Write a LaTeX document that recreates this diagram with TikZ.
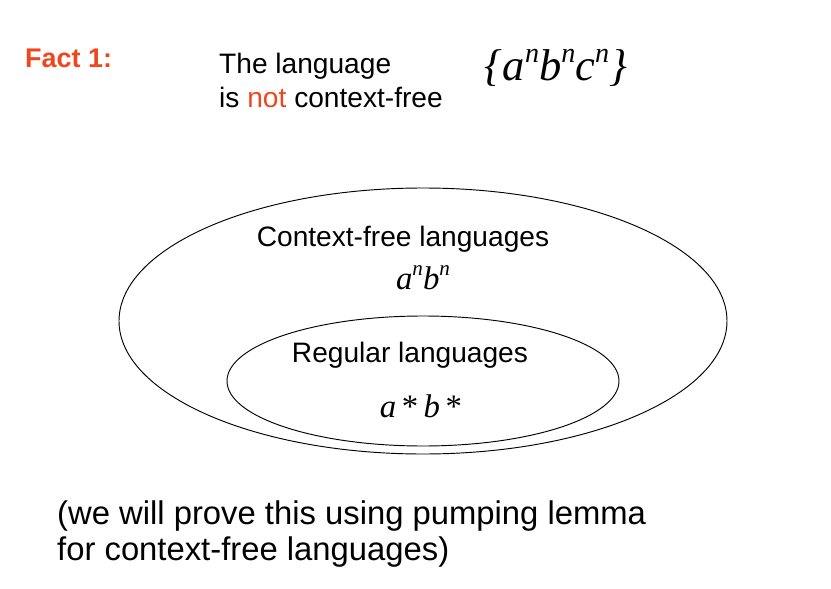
\documentclass[tikz,border=0pt]{standalone}
\usepackage{fontspec}
\setmainfont{Liberation Sans}
\newfontfamily\tms{Liberation Serif}
\definecolor{factred}{RGB}{240,70,30}
\newcommand\pw[1]{\raisebox{0.42em}{\fontsize{#1}{#1}\selectfont n}}
\begin{document}
\begin{tikzpicture}[x=0.03cm,y=-0.03cm,
  lbl/.style={inner sep=0pt,font=\fontsize{24}{28}\selectfont},
  mth/.style={inner sep=0pt,font=\tms\itshape\fontsize{28}{30}\selectfont},
  oval/.style={draw,line width=0.8pt}]
\useasboundingbox (0,0) rectangle (831,589);
\node[lbl,anchor=west,text=factred,font=\bfseries\fontsize{23}{26}\selectfont] (fact) at (25,58) {Fact 1:};
\node[lbl,anchor=west] (t1) at (219,66) {The language};
\node[lbl,anchor=west] (t2) at (219,97) {is \textcolor{factred}{not} context-free};
\node[mth,font=\tms\itshape\fontsize{38}{40}\selectfont] (abc) at (556,68) {\{a\pw{24}b\pw{24}c\pw{24}\}};
\draw[oval] (423,321) ellipse [x radius=304, y radius=133];
\draw[oval] (423,381) ellipse [x radius=196, y radius=65];
\node[lbl] (cfl) at (403,239) {Context-free languages};
\node[mth] (anbn) at (423,278) {a\pw{18}b\pw{18}};
\node[lbl] (rl) at (410,355) {Regular languages};
\node[mth] (ab) at (421,406) {a\,\textup{*}\,b\,\textup{*}};
\node[lbl,anchor=west,align=left,font=\fontsize{28}{30}\selectfont] (note) at (57,534) {(we will prove this using pumping lemma\\for context-free languages)};
\end{tikzpicture}
\end{document}
